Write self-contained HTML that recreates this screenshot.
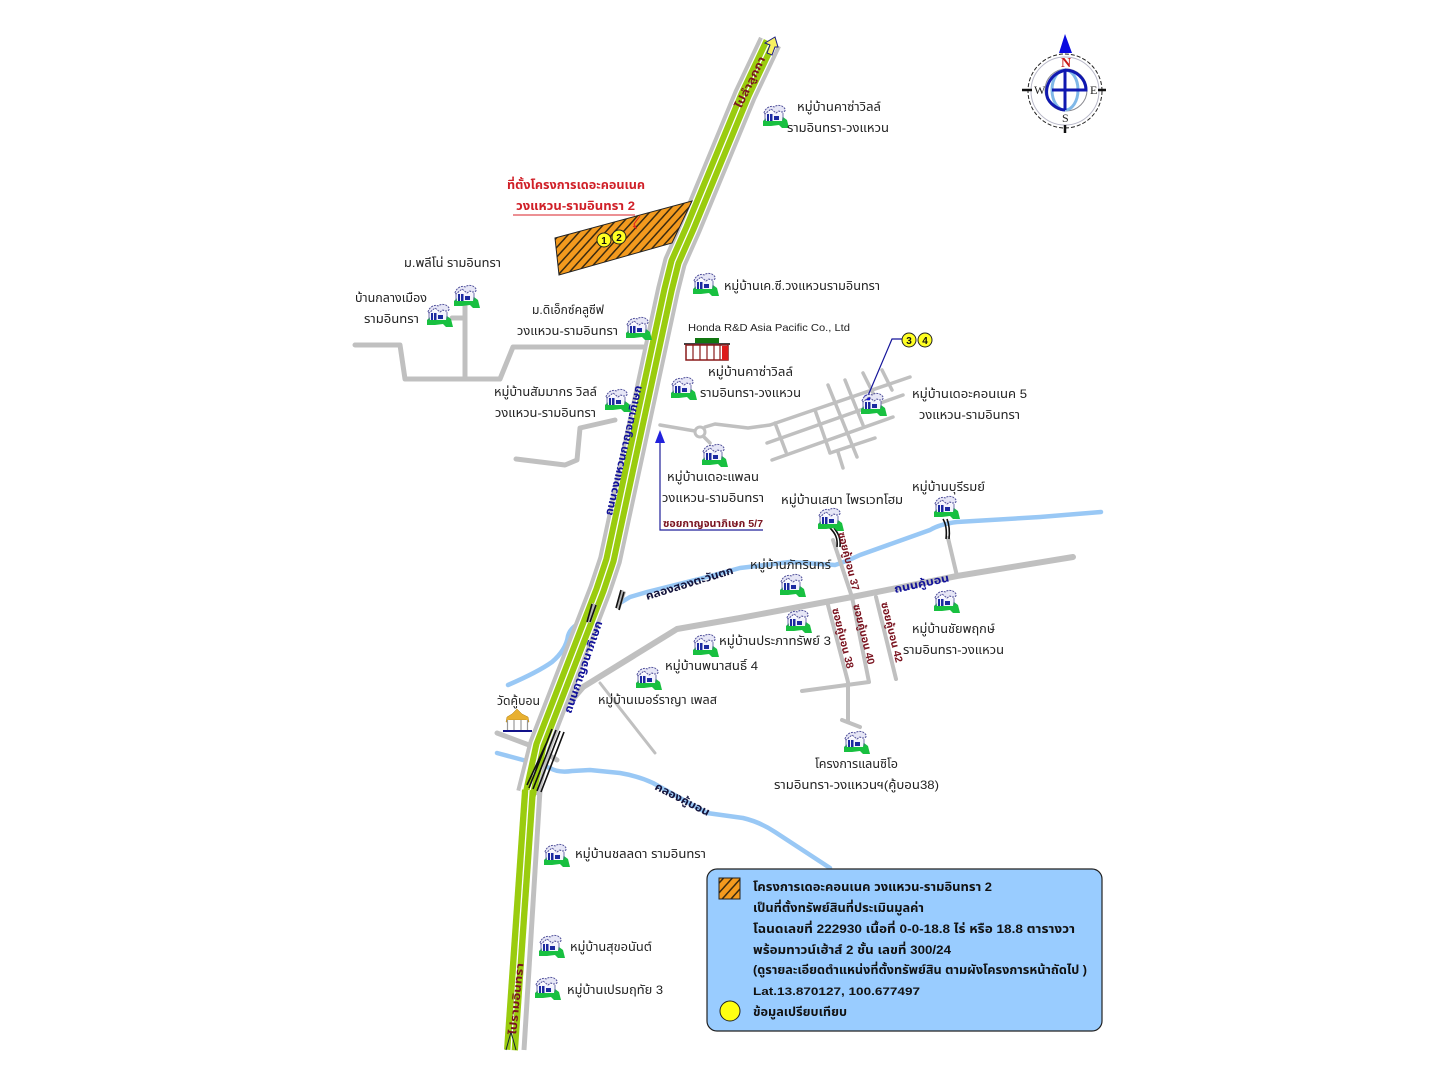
<!DOCTYPE html>
<html lang="th"><head><meta charset="utf-8"><title>แผนที่โครงการเดอะคอนเนค</title>
<style>
html,body{margin:0;padding:0;background:#fff;width:1440px;height:1080px;overflow:hidden}
svg{display:block;filter:blur(.3px)}
text{font-family:"Liberation Sans","Noto Sans Thai","Noto Sans Thai Looped","Garuda","Loma",sans-serif;font-size:12px;fill:#222}
.b{font-weight:bold;fill:#111}
.r{fill:#d02028;font-weight:bold;font-size:12px}
.s{fill:#7a1420;font-weight:bold;font-size:10.5px}
.n{fill:#12129a;font-weight:bold;font-size:11px}
.k{fill:#14143c;font-weight:bold;font-size:11px}
.c{font-family:"Liberation Serif",serif;font-size:12px}
.g{fill:none;stroke:#c0c0c0;stroke-linejoin:round;stroke-linecap:round}
.w{fill:none;stroke:#99c8f5;stroke-linejoin:round;stroke-linecap:round;stroke-width:4.5}
.bk{fill:none;stroke:#111;stroke-width:1.6}
</style></head><body>
<svg xmlns="http://www.w3.org/2000/svg" width="1440" height="1080" viewBox="0 0 1440 1080">
<defs>
<pattern id="h" width="6.5" height="6.5" patternUnits="userSpaceOnUse" patternTransform="rotate(-48)">
<rect width="6.5" height="6.5" fill="#f39a1e"/><rect width="6.5" height="1.5" fill="#3a2a10"/>
</pattern>
<symbol id="house" viewBox="0 0 26 24" overflow="visible">
<path d="M1 16 L4 13 L21 12 L25 15 L27 23 L20 23 L17 20 L9 21 L1 21Z" fill="#18c040"/>
<path d="M3 7 L4 16 L20 16 L21 8Z" fill="#f4f4fc"/>
<path d="M2 8 C3 3 9 0 12 2 C14 0 20 -1 23 4 C24 7 20 8 17 6 L14 8 L9 4 L3 9Z" fill="#e6e6f6" stroke="#50509a" stroke-width="1" stroke-dasharray="2 1"/>
<path d="M3 9 L3 16 M21 8 L21 15" stroke="#50509a" stroke-width=".8"/>
<rect x="5" y="9" width="2" height="7" fill="#1c2aa0"/><rect x="8" y="9" width="2.5" height="7" fill="#1c2aa0"/>
<rect x="12" y="11" width="5" height="4" fill="#1c2aa0"/>
</symbol>
</defs>

<!-- canals -->
<path class="w" d="M1101 512 L1040 517 L957 522 Q940 524 930 530 L860 555 Q845 562 835 565 L790 562 L740 568 L707 577 L647 592 L630 597 L620 603"/>
<path class="w" d="M587 620 Q571 625 568 636 Q566 650 552 662 Q538 672 508 685"/>
<path class="w" d="M497 753 L523 760 L550 768 Q558 773 572 771 L590 770 L620 773 Q638 776 653 783 L707 813 L743 818 Q760 822 775 832 L830 868"/>

<!-- side roads -->
<g class="g" stroke-width="5">
<path d="M355 345 L400 345 L405 379 L500 379 L513 347 L650 347"/>
<path d="M465 379 L465 305 M452 318 L465 318"/>
<path d="M615 420 L580 428 L577 460 L565 465 L516 459"/>
</g>
<g class="g" stroke-width="3.5">
<path d="M660 425 L695 431 M705 427 L715 424 L748 428 L770 425 L910 377"/>
<path d="M767 443 L903 395 M772 460 L893 417 M830 453 L875 438"/>
<path d="M775 423 L786 452 M815 410 L830 453 M828 385 L857 457 M845 380 L863 425 M863 373 L873 393 M882 370 L892 390 M838 452 L843 468"/>
<path d="M703 436 L710 443"/>
</g>
<circle cx="700" cy="432" r="5" fill="#fff" stroke="#c0c0c0" stroke-width="3"/>
<path class="g" stroke-width="6" d="M1073 557 L957 576 L852 597 L740 618 L677 629 L583 687 L570 702"/>
<g class="g" stroke-width="4">
<path d="M833 540 L852 597 L869 682 L802 691 M828 605 L848 682 L848 722 M842 720 L860 727 M876 597 L896 679 M948 538 L957 576"/>
<path d="M600 683 L655 753" stroke-width="3"/>
</g>
<path class="g" stroke-width="5" d="M497 733 L537 748 L557 760"/>

<!-- highway -->
<path d="M770 42 L745 95 L690 228 L675 262 L668 290 L610 560 L600 590 L540 745 L528 793" fill="none" stroke="#c0c0c0" stroke-width="24" stroke-linejoin="round"/>
<path d="M770 42 L745 95 L690 228 L675 262 L668 290 L610 560 L600 590 L540 745 L528 793" fill="none" stroke="#fff" stroke-width="16" stroke-linejoin="round"/>
<path d="M770 42 L745 95 L690 228 L675 262 L668 290 L610 560 L600 590 L540 745 L528 800" fill="none" stroke="#9acc0e" stroke-width="13.5" stroke-linejoin="round"/>
<path d="M770 42 L745 95 L690 228 L675 262 L668 290 L610 560 L600 590 L540 745 L528 800" fill="none" stroke="#fff" stroke-width="1.3" stroke-linejoin="round"/>
<path d="M540 790 L524 1050" stroke="#c0c0c0" stroke-width="5" fill="none"/>
<path d="M529 790 L511 1050" stroke="#9acc0e" stroke-width="14" fill="none"/>
<path d="M529 790 L511 1050" stroke="#fff" stroke-width="1.3" fill="none"/>
<path d="M775 37 L765 43 L770 45 L767 53 L772 55 L775 47 L778 47Z" fill="#f7f060" stroke="#1a1a80" stroke-width="1"/>
<path d="M506 1050 L511 1032 L516 1050" fill="none" stroke="#123" stroke-width="1"/>

<!-- bridges -->
<path d="M592 603 L586 622 L591 623 L597 605Z M622 590 L616 608 L620 610 L626 592Z" fill="#b5b5b5"/>
<g class="bk">
<path d="M552 729 L529 788 M556 730 L533 789 M560 731 L537 791 M564 732 L541 792 M547 742 L527 785"/>
<path d="M592 604 L587 622 M596 605 L590 622 M621 590 L616 608 M624 592 L619 610"/>
<path d="M830 528 C835 533 838 538 837 547 M834 528 C838 533 841 538 840 547"/>
<path d="M943 519 C946 524 947 530 946 539 M947 519 C949 524 950 530 949 539"/>
</g>

<!-- project -->
<path d="M555 238 L692 201 L672 243 L559 275Z" fill="url(#h)" stroke="#222" stroke-width="1"/>
<path d="M513 215 L635 215" stroke="#d8202a" stroke-width="1" fill="none"/>
<path d="M640 216 L634 224 L636 228 L633 226" stroke="#e02020" stroke-width="1" fill="none"/>
<g stroke="#222" stroke-width="1" fill="#ffff22">
<circle cx="604" cy="240" r="7"/><circle cx="619" cy="237" r="7"/>
<circle cx="909" cy="340" r="7"/><circle cx="925" cy="340" r="7"/>
</g>
<g text-anchor="middle">
<text x="604" y="244" class="b" style="font-size:10px">1</text><text x="619" y="241" class="b" style="font-size:10px">2</text>
<text x="909" y="344" class="b" style="font-size:10px">3</text><text x="925" y="344" class="b" style="font-size:10px">4</text>
</g>
<path d="M867 398 L892 339 L902 339" fill="none" stroke="#14149a" stroke-width="1.2"/>
<circle cx="867" cy="398" r="3.5" fill="#1414d0"/>

<!-- blue arrow -->
<path d="M660 443 L660 530 L763 530" fill="none" stroke="#20209a" stroke-width="1.2"/>
<path d="M660 430 L655 443 L665 443Z" fill="#2222dd"/>

<!-- honda -->
<rect x="684" y="343" width="46" height="2" fill="#444"/>
<rect x="695" y="338" width="24" height="5" fill="#117711"/>
<rect x="686" y="345" width="42" height="15" fill="#fff" stroke="#8a1a1a" stroke-width="1.5"/>
<path d="M693 345V360M700 345V360M707 345V360M714 345V360M720 345V360" stroke="#8a1a1a" stroke-width="1.2"/>
<rect x="722" y="346" width="6" height="14" fill="#dd1a1a"/>

<!-- temple -->
<rect x="503" y="730" width="29" height="2" fill="#11118a"/>
<path d="M507 717 L512 714 L517 709 L522 714 L528 717 L529 722 L526 722 L526 720 L509 720 L509 722 L506 722Z" fill="#e8b030" stroke="#b08010" stroke-width=".5"/>
<rect x="507" y="720" width="21" height="10" fill="#fff"/>
<path d="M507.5 720V730M527.500 720V730M514 720V730M521 720V730" stroke="#999" stroke-width="1.2"/>

<!-- houses -->
<g>
<use href="#house" x="762" y="105" width="26" height="24"/>
<use href="#house" x="692" y="273" width="26" height="24"/>
<use href="#house" x="453" y="285" width="26" height="24"/>
<use href="#house" x="426" y="304" width="26" height="24"/>
<use href="#house" x="625" y="317" width="26" height="24"/>
<use href="#house" x="604" y="389" width="26" height="24"/>
<use href="#house" x="670" y="377" width="26" height="24"/>
<use href="#house" x="860" y="393" width="26" height="24"/>
<use href="#house" x="701" y="444" width="26" height="24"/>
<use href="#house" x="817" y="508" width="26" height="24"/>
<use href="#house" x="933" y="496" width="26" height="24"/>
<use href="#house" x="779" y="574" width="26" height="24"/>
<use href="#house" x="933" y="590" width="26" height="24"/>
<use href="#house" x="785" y="610" width="26" height="24"/>
<use href="#house" x="692" y="634" width="26" height="24"/>
<use href="#house" x="635" y="667" width="26" height="24"/>
<use href="#house" x="843" y="731" width="26" height="24"/>
<use href="#house" x="543" y="844" width="26" height="24"/>
<use href="#house" x="538" y="935" width="26" height="24"/>
<use href="#house" x="534" y="977" width="26" height="24"/>
</g>

<!-- labels -->
<g>
<text x="797" y="111" textLength="84" lengthAdjust="spacingAndGlyphs">หมู่บ้านคาซ่าวิลล์</text>
<text x="787" y="132" textLength="102" lengthAdjust="spacingAndGlyphs">รามอินทรา-วงแหวน</text>
<text class="r" x="507" y="189" textLength="138" lengthAdjust="spacingAndGlyphs">ที่ตั้งโครงการเดอะคอนเนค</text>
<text class="r" x="516" y="210" textLength="119" lengthAdjust="spacingAndGlyphs">วงแหวน-รามอินทรา 2</text>
<text x="404" y="267" textLength="97" lengthAdjust="spacingAndGlyphs">ม.พลีโน่ รามอินทรา</text>
<text x="355" y="302" textLength="72" lengthAdjust="spacingAndGlyphs">บ้านกลางเมือง</text>
<text x="364" y="323" textLength="55" lengthAdjust="spacingAndGlyphs">รามอินทรา</text>
<text x="724" y="290" textLength="156" lengthAdjust="spacingAndGlyphs">หมู่บ้านเค.ซี.วงแหวนรามอินทรา</text>
<text x="532" y="314" textLength="72" lengthAdjust="spacingAndGlyphs">ม.ดิเอ็กซ์คลูซีฟ</text>
<text x="517" y="335" textLength="101" lengthAdjust="spacingAndGlyphs">วงแหวน-รามอินทรา</text>
<text x="688" y="331" textLength="162" lengthAdjust="spacingAndGlyphs" style="font-size:10.5px">Honda R&amp;D Asia Pacific Co., Ltd</text>
<text x="708" y="376" textLength="85" lengthAdjust="spacingAndGlyphs">หมู่บ้านคาซ่าวิลล์</text>
<text x="700" y="397" textLength="101" lengthAdjust="spacingAndGlyphs">รามอินทรา-วงแหวน</text>
<text x="494" y="396" textLength="103" lengthAdjust="spacingAndGlyphs">หมู่บ้านสัมมากร วิลล์</text>
<text x="495" y="417" textLength="101" lengthAdjust="spacingAndGlyphs">วงแหวน-รามอินทรา</text>
<text x="912" y="398" textLength="115" lengthAdjust="spacingAndGlyphs">หมู่บ้านเดอะคอนเนค 5</text>
<text x="919" y="419" textLength="101" lengthAdjust="spacingAndGlyphs">วงแหวน-รามอินทรา</text>
<text x="667" y="481" textLength="92" lengthAdjust="spacingAndGlyphs">หมู่บ้านเดอะแพลน</text>
<text x="662" y="502" textLength="102" lengthAdjust="spacingAndGlyphs">วงแหวน-รามอินทรา</text>
<text x="781" y="504" textLength="122" lengthAdjust="spacingAndGlyphs">หมู่บ้านเสนา ไพรเวทโฮม</text>
<text x="912" y="491" textLength="73" lengthAdjust="spacingAndGlyphs">หมู่บ้านบุรีรมย์</text>
<text class="s" x="663" y="527" textLength="100" lengthAdjust="spacingAndGlyphs">ซอยกาญจนาภิเษก 5/7</text>
<text x="750" y="569" textLength="81" lengthAdjust="spacingAndGlyphs">หมู่บ้านภัทรินทร์</text>
<text x="912" y="633" textLength="83" lengthAdjust="spacingAndGlyphs">หมู่บ้านชัยพฤกษ์</text>
<text x="903" y="654" textLength="101" lengthAdjust="spacingAndGlyphs">รามอินทรา-วงแหวน</text>
<text x="719" y="645" textLength="112" lengthAdjust="spacingAndGlyphs">หมู่บ้านประภาทรัพย์ 3</text>
<text x="665" y="670" textLength="93" lengthAdjust="spacingAndGlyphs">หมู่บ้านพนาสนธิ์ 4</text>
<text x="598" y="704" textLength="119" lengthAdjust="spacingAndGlyphs">หมู่บ้านเมอร์ราญา เพลส</text>
<text x="497" y="705" textLength="43" lengthAdjust="spacingAndGlyphs">วัดคู้บอน</text>
<text x="815" y="768" textLength="83" lengthAdjust="spacingAndGlyphs">โครงการแลนซิโอ</text>
<text x="774" y="789" textLength="165" lengthAdjust="spacingAndGlyphs">รามอินทรา-วงแหวนฯ(คู้บอน38)</text>
<text x="575" y="858" textLength="131" lengthAdjust="spacingAndGlyphs">หมู่บ้านชลลดา รามอินทรา</text>
<text x="570" y="951" textLength="82" lengthAdjust="spacingAndGlyphs">หมู่บ้านสุขอนันต์</text>
<text x="567" y="994" textLength="96" lengthAdjust="spacingAndGlyphs">หมู่บ้านเปรมฤทัย 3</text>
</g>

<!-- rotated labels -->
<text class="n" transform="translate(612,516) rotate(-77)" textLength="133" lengthAdjust="spacingAndGlyphs">ถนนวงแหวนกาญจนาภิเษก</text>
<text class="n" transform="translate(571,714) rotate(-71)" textLength="97" lengthAdjust="spacingAndGlyphs">ถนนกาญจนาภิเษก</text>
<text class="s" transform="translate(741,109) rotate(-64)" textLength="56" lengthAdjust="spacingAndGlyphs">ไปลำลูกกา</text>
<text class="s" transform="translate(516,1035) rotate(-84)" textLength="72" lengthAdjust="spacingAndGlyphs">ไปรามอินทรา</text>
<text class="k" transform="translate(647,600) rotate(-17)" textLength="91" lengthAdjust="spacingAndGlyphs">คลองสองตะวันตก</text>
<text class="k" transform="translate(654,789) rotate(27)" textLength="60" lengthAdjust="spacingAndGlyphs">คลองคู้บอน</text>
<text class="n" transform="translate(895,593) rotate(-12)" textLength="56" lengthAdjust="spacingAndGlyphs">ถนนคู้บอน</text>
<text class="s" transform="translate(838,533) rotate(76)" textLength="60" lengthAdjust="spacingAndGlyphs">ซอยคู้บอน 37</text>
<text class="s" transform="translate(832,609) rotate(76)" textLength="62" lengthAdjust="spacingAndGlyphs">ซอยคู้บอน 38</text>
<text class="s" transform="translate(853,605) rotate(76)" textLength="62" lengthAdjust="spacingAndGlyphs">ซอยคู้บอน 40</text>
<text class="s" transform="translate(881,603) rotate(76)" textLength="62" lengthAdjust="spacingAndGlyphs">ซอยคู้บอน 42</text>

<!-- legend -->
<rect x="707" y="869" width="395" height="162" rx="10" fill="#99ccff" stroke="#222" stroke-width="1.2"/>
<rect x="719" y="878" width="21" height="21" fill="url(#h)" stroke="#222"/>
<circle cx="730" cy="1011" r="10" fill="#ffff11" stroke="#222"/>
<g>
<text class="b" x="753" y="891" textLength="239" lengthAdjust="spacingAndGlyphs">โครงการเดอะคอนเนค วงแหวน-รามอินทรา 2</text>
<text class="b" x="753" y="912" textLength="171" lengthAdjust="spacingAndGlyphs">เป็นที่ตั้งทรัพย์สินที่ประเมินมูลค่า</text>
<text class="b" x="753" y="933" textLength="322" lengthAdjust="spacingAndGlyphs">โฉนดเลขที่ 222930 เนื้อที่ 0-0-18.8 ไร่ หรือ 18.8 ตารางวา</text>
<text class="b" x="753" y="954" textLength="198" lengthAdjust="spacingAndGlyphs">พร้อมทาวน์เฮ้าส์ 2 ชั้น เลขที่ 300/24</text>
<text class="b" x="753" y="974" textLength="334" lengthAdjust="spacingAndGlyphs">(ดูรายละเอียดตำแหน่งที่ตั้งทรัพย์สิน ตามผังโครงการหน้าถัดไป )</text>
<text class="b" x="753" y="995" textLength="167" lengthAdjust="spacingAndGlyphs" style="font-size:11px">Lat.13.870127, 100.677497</text>
<text class="b" x="753" y="1016" textLength="94" lengthAdjust="spacingAndGlyphs">ข้อมูลเปรียบเทียบ</text>
</g>

<!-- compass -->
<g fill="none">
<circle cx="1065" cy="91" r="37" stroke="#222" stroke-width="1" stroke-dasharray="4 2"/>
<circle cx="1065" cy="91" r="34" stroke="#b8b8c8" stroke-width="1"/>
<circle cx="1066" cy="90" r="21" stroke="#8a8a90" stroke-width="1"/>
<ellipse cx="1065" cy="90" rx="13" ry="20" stroke="#80b8e8" stroke-width="3"/>
<path d="M1066 70 C1048 74 1044 90 1048 99 C1052 106 1060 110 1065 110" stroke="#1018b0" stroke-width="3"/>
<path d="M1065 70 V110 M1052 90 H1086 C1086 78 1075 70 1065 70" stroke="#1018b0" stroke-width="3"/>
<path d="M1022 90 H1032 M1098 90 H1106 M1065 125 V133" stroke="#111" stroke-width="2.5"/>
</g>
<path d="M1065 34 L1059 53 L1072 53Z" fill="#0a0ae0"/>
<text class="c" x="1061" y="67" style="fill:#c81818;font-weight:bold;font-size:14px">N</text>
<text class="c" x="1034" y="94">W</text>
<text class="c" x="1090" y="94">E</text>
<text class="c" x="1062" y="122">S</text>
</svg>
</body></html>
